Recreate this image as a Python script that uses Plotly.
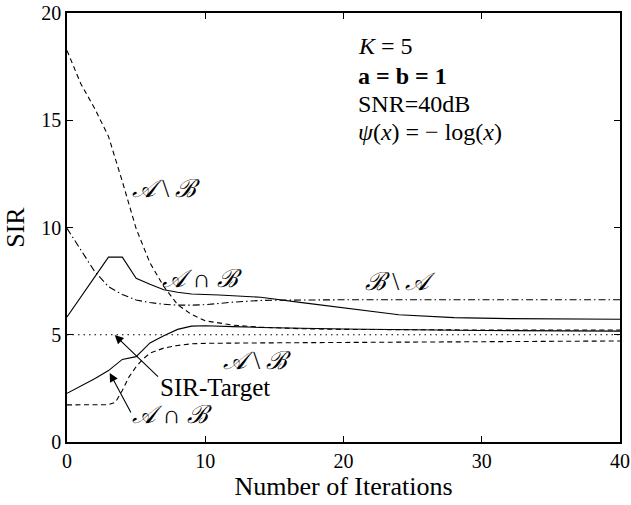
import plotly.graph_objects as go

# ---- data ----
iters_ab_upper = [0, 1, 2, 3, 4, 5, 6, 7, 8, 9, 10, 12, 14, 17, 20, 25, 30, 40]
sir_ab_upper = [18.25, 16.7, 15.55, 14.25, 12.15, 9.95, 8.35, 7.25, 6.4, 5.95, 5.65, 5.45, 5.35, 5.28, 5.25, 5.23, 5.22, 5.22]

iters_int_upper = [0, 1, 2, 3, 4, 5, 6, 7, 8, 9, 11, 14, 17, 20, 24, 28, 32, 40]
sir_int_upper = [5.83, 6.76, 7.69, 8.62, 8.62, 7.63, 7.35, 7.1, 6.98, 6.9, 6.85, 6.75, 6.5, 6.25, 5.93, 5.8, 5.75, 5.72]

iters_ba = [0, 1, 2, 3, 4, 5, 6, 7, 8, 9, 10, 12, 14, 17, 20, 40]
sir_ba = [9.96, 8.95, 7.95, 7.24, 6.88, 6.62, 6.5, 6.42, 6.38, 6.38, 6.4, 6.52, 6.6, 6.62, 6.63, 6.63]

iters_int_lower = [0, 1, 2, 3, 4, 5, 6, 7, 8, 9, 10, 12, 14, 20, 30, 40]
sir_int_lower = [2.27, 2.6, 2.95, 3.33, 3.85, 3.98, 4.62, 4.95, 5.25, 5.4, 5.42, 5.38, 5.34, 5.27, 5.2, 5.17]

iters_ab_lower = [0, 1, 2, 3, 3.5, 4, 4.5, 5, 5.5, 6, 7, 8, 9, 10, 14, 20, 30, 40]
sir_ab_lower = [1.73, 1.73, 1.73, 1.74, 1.85, 2.4, 3.05, 3.51, 3.87, 4.14, 4.38, 4.5, 4.58, 4.6, 4.62, 4.64, 4.68, 4.71]

iters_target = [0, 40]
sir_target = [5, 5]

x_ticks = [0, 10, 20, 30, 40]
y_ticks = [0, 5, 10, 15, 20]

FONT = "Liberation Serif"
A = "\U0001D49C"
B = "\u212C"

fig = go.Figure()

def add_line(x, y, dash):
    fig.add_trace(go.Scatter(x=x, y=y, mode="lines",
                             line=dict(color="black", width=1.1, dash=dash),
                             showlegend=False, hoverinfo="skip"))

add_line(iters_target, sir_target, "1.5px,4px")
add_line(iters_ab_upper, sir_ab_upper, "5px,3.5px")
add_line(iters_int_upper, sir_int_upper, "solid")
add_line(iters_ba, sir_ba, "7px,3px,1.5px,3px")
add_line(iters_int_lower, sir_int_lower, "solid")
add_line(iters_ab_lower, sir_ab_lower, "5px,3.5px")

def label(x, y, text, size=25, xanchor="center"):
    fig.add_annotation(x=x, y=y, xref="x", yref="y", text=text, showarrow=False,
                       xanchor=xanchor, yanchor="middle",
                       font=dict(family=FONT, size=size, color="black"))

label(7.19, 11.84, f"<i>{A}</i> \\ <i>{B}</i>")
label(9.78, 7.6, f"<i>{A}</i> ∩ <i>{B}</i>")
label(24.1, 7.46, f"<i>{B}</i> \\ <i>{A}</i>")
label(13.74, 3.82, f"<i>{A}</i> \\ <i>{B}</i>")
label(6.6, 2.56, "SIR-Target", xanchor="left")
label(4.55, 1.26, f"<i>{A}</i> ∩ <i>{B}</i>", xanchor="left")

label(20.9, 18.48, "<i>K</i> = 5", size=24, xanchor="left")
label(20.9, 17.08, "<b>a = b = 1</b>", size=24, xanchor="left")
label(20.9, 15.78, "SNR=40dB", size=24, xanchor="left")
label(20.9, 14.46, "<i>ψ</i>(<i>x</i>) = − log(<i>x</i>)", size=24, xanchor="left")

def arrow(tx, ty, hx, hy):
    fig.add_annotation(x=hx, y=hy, ax=tx, ay=ty, xref="x", yref="y",
                       axref="x", ayref="y", text="", showarrow=True,
                       arrowhead=2, arrowsize=1.6, arrowwidth=1.1,
                       arrowcolor="black", standoff=0, startstandoff=0)

arrow(6.69, 2.98, 3.45, 4.99)
arrow(4.68, 1.31, 3.09, 3.22)

axis_common = dict(showgrid=False, zeroline=False, showline=True, linecolor="black",
                   linewidth=1.5, mirror="ticks", ticks="inside", ticklen=6,
                   tickwidth=1.2, tickcolor="black", automargin=False,
                   ticklabeloverflow="allow",
                   tickfont=dict(family=FONT, size=20, color="black"))

fig.update_xaxes(range=[0, 40], tickvals=x_ticks, ticktext=[str(v) for v in x_ticks],
                 title=dict(text="Number of Iterations", font=dict(family=FONT, size=26, color="black"),
                            standoff=4),
                 **axis_common)
fig.update_yaxes(range=[0, 20], tickvals=y_ticks, ticktext=[str(v) for v in y_ticks],
                 title=dict(text="SIR", font=dict(family=FONT, size=26, color="black"),
                            standoff=9),
                 **axis_common)

fig.update_layout(width=631, height=505, margin=dict(l=67, r=11, t=13, b=63),
                  plot_bgcolor="white", paper_bgcolor="white",
                  font=dict(family=FONT, color="black"))

fig.write_html("out.html")
